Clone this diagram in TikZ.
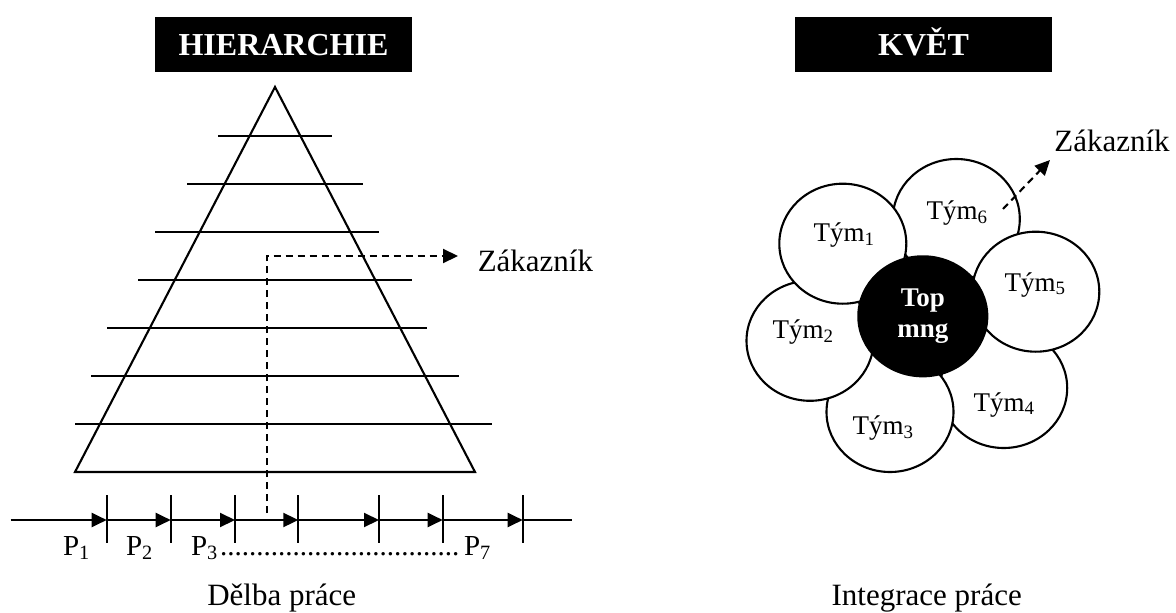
\documentclass[tikz,border=0pt]{standalone}
\usepackage{fontspec}
\setmainfont{Liberation Serif}
\usetikzlibrary{arrows.meta,shapes.geometric}

\tikzset{
  petal/.style={draw,ellipse,fill=white,minimum width=127pt,minimum height=120pt,inner sep=0pt},
  titlebox/.style={fill=black,text=white,font=\fontsize{32}{38}\selectfont\bfseries,
    minimum width=257pt,minimum height=55pt,text height=21.2pt,text depth=0pt,inner sep=0pt},
  lbl/.style={anchor=base,inner sep=0pt,font=\fontsize{27}{32}\selectfont},
  plbl/.style={anchor=base west,inner sep=0pt,font=\fontsize{29}{34}\selectfont},
  txt/.style={inner sep=0pt,font=\fontsize{31}{36}\selectfont},
  flow/.style={dash pattern=on 7pt off 5pt}
}

\begin{document}
\begin{tikzpicture}[x=1pt,y=-1pt,line width=2.1pt,>={Triangle[length=15pt,width=14pt]}]
    \useasboundingbox (0,0) rectangle (1176,613);
    \node[titlebox] (hier) at (283.5,44.5) {HIERARCHIE};
    \node[titlebox] (kvet) at (923.5,44.5) {KVĚT};

    \draw (275,87) -- (475,472) -- (75,472) -- cycle;
    \foreach \y/\a/\b in {135.7/218/332,183.7/187/363,231.7/155/379,279.7/138/412,
      327.7/107/427,375.7/91/459,423.7/75/492}
      \draw (\a,\y) -- (\b,\y);

    \coordinate (k0) at (10.7,520);
    \foreach \i/\x in {1/106.7,2/170.7,3/235,4/298.3,5/379,6/442.7,7/522.7}{
      \coordinate (k\i) at (\x,520);
      \draw (\x,495) -- (\x,543.3);
    }
    \coordinate (k8) at (571.7,520);
    \foreach \i/\j in {0/1,1/2,2/3,3/4,4/5,5/6,6/7}
      \draw[->] (k\i) -- (k\j);
    \draw (k7) -- (k8);

    \coordinate (d0) at (266.7,513);
    \coordinate (d1) at (458,256);
    \draw[->,flow] (d0) |- (d1);
    \node[txt,anchor=base west] (zak1) at (476.7,271.7) {Zákazník};

    \node[plbl] (p1) at (62,555) {P\textsubscript{1}};
    \node[plbl] (p2) at (125,555) {P\textsubscript{2}};
    \node[plbl] (p3) at (190,555) {P\textsubscript{3}};
    \node[plbl] (dots) at (219,555) {.................................};
    \node[plbl] (p7) at (463,555) {P\textsubscript{7}};

    \node[txt,anchor=base] (delba) at (281.7,605) {Dělba práce};

    \node[petal] (t4) at (1003.7,388) {};
    \node[petal] (t6) at (956.3,219) {};
    \node[petal] (t3) at (890,412) {};
    \node[petal] (t5) at (1035.8,291.7) {};
    \node[petal] (t2) at (810,340.8) {};
    \node[petal] (t1) at (842.8,243.7) {};
    \node[petal,fill=black,text=white,minimum width=129pt,align=center,
      font=\fontsize{27}{31}\selectfont\bfseries] (top) at (922.8,316.3) {Top\\mng};

    \node[lbl] (l1) at (844,241.7) {Tým\textsubscript{1}};
    \node[lbl] (l2) at (803,338.3) {Tým\textsubscript{2}};
    \node[lbl] (l3) at (883,434.3) {Tým\textsubscript{3}};
    \node[lbl] (l4) at (1004,411) {Tým\textsubscript{4}};
    \node[lbl] (l5) at (1035,291) {Tým\textsubscript{5}};
    \node[lbl] (l6) at (957,219.3) {Tým\textsubscript{6}};

    \coordinate (f0) at (1003,209);
    \coordinate (f1) at (1050,160);
    \draw[->,flow] (f0) -- (f1);
    \node[txt,anchor=base west] (zak2) at (1053.3,151.7) {Zákazník};

    \node[txt,anchor=base] (integ) at (926.7,605) {Integrace práce};
\end{tikzpicture}
\end{document}
